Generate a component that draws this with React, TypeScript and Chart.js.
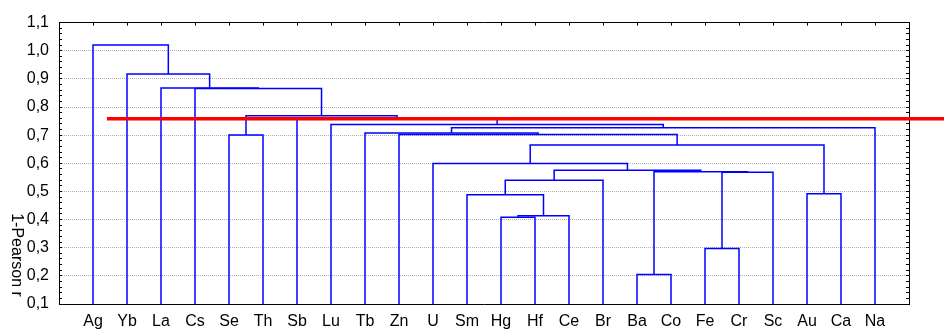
import React, { useEffect, useRef } from 'react';
import { Chart, registerables } from 'chart.js';

Chart.register(...registerables);

// Leaf labels, left to right
const categories = ['Ag', 'Yb', 'La', 'Cs', 'Se', 'Th', 'Sb', 'Lu', 'Tb', 'Zn', 'U', 'Sm', 'Hg', 'Hf', 'Ce', 'Br', 'Ba', 'Co', 'Fe', 'Cr', 'Sc', 'Au', 'Ca', 'Na'];

// Linkage steps: children are leaf names or "m<k>" (k-th merge), height = 1-Pearson r
const mergeLeft = ['Ba', 'Fe', 'Hg', 'm2', 'Sm', 'Au', 'm4', 'm1', 'm0', 'm6', 'U', 'm10', 'Se', 'Zn', 'Tb', 'm14', 'Lu', 'Sb', 'm12', 'Cs', 'La', 'Yb', 'Ag'];
const mergeRight = ['Co', 'Cr', 'Hf', 'Ce', 'm3', 'Ca', 'Br', 'Sc', 'm7', 'm8', 'm9', 'm5', 'Th', 'm11', 'm13', 'Na', 'm15', 'm16', 'm17', 'm18', 'm19', 'm20', 'm21'];
const mergeHeight = [0.205, 0.297, 0.408, 0.414, 0.488, 0.492, 0.540, 0.568, 0.570, 0.575, 0.599, 0.665, 0.701, 0.702, 0.708, 0.726, 0.738, 0.757, 0.769, 0.866, 0.868, 0.917, 1.020];

// Cut-off line
const cutLevel = [0.758];
const cutRange = [1.41, 26.05];

// Axis
const yMin = 0.1;
const yMax = 1.1;
const yMinorStep = 0.02;
const yTitle = '1-Pearson r';

const FONT = '"Liberation Sans", Arial, sans-serif';

function isMajor(v: number) {
  return Math.abs(v * 10 - Math.round(v * 10)) < 1e-6;
}

function buildDendrogram() {
  const nodeX: number[] = [];
  const resolve = (ref: string) => {
    if (ref.startsWith('m')) {
      const k = parseInt(ref.slice(1), 10);
      return { x: nodeX[k], h: mergeHeight[k] };
    }
    return { x: categories.indexOf(ref) + 1, h: yMin };
  };
  const datasets: any[] = [];
  for (let k = 0; k < mergeHeight.length; k++) {
    const l = resolve(mergeLeft[k]);
    const r = resolve(mergeRight[k]);
    const h = mergeHeight[k];
    nodeX[k] = (l.x + r.x) / 2;
    datasets.push({
      data: [
        { x: l.x, y: l.h },
        { x: l.x, y: h },
        { x: r.x, y: h },
        { x: r.x, y: r.h },
      ],
      showLine: true,
      borderColor: '#0000ff',
      borderWidth: 1.5,
      pointRadius: 0,
      tension: 0,
      fill: false,
    });
  }
  return datasets;
}

const leafTicks = (s: any) => {
  s.ticks = categories.map((_, i) => ({ value: i + 1 }));
};

const yTickList = (s: any) => {
  const n = Math.round((yMax - yMin) / yMinorStep);
  const t: any[] = [];
  for (let k = 0; k <= n; k++) t.push({ value: Math.round((yMin + k * yMinorStep) * 1000) / 1000 });
  s.ticks = t;
};

const yTitlePlugin = {
  id: 'yTitleRot',
  afterDraw(chart: any) {
    const { ctx } = chart;
    ctx.save();
    ctx.translate(16, 255);
    ctx.rotate(Math.PI / 2);
    ctx.font = `16px ${FONT}`;
    ctx.fillStyle = '#000';
    ctx.textAlign = 'center';
    ctx.textBaseline = 'middle';
    ctx.fillText(yTitle, 0, 0);
    ctx.restore();
  },
};

export default function App() {
  const ref = useRef<HTMLCanvasElement>(null);
  useEffect(() => {
    if (!ref.current) return;
    const cut = {
      data: [
        { x: cutRange[0], y: cutLevel[0] },
        { x: cutRange[1], y: cutLevel[0] },
      ],
      showLine: true,
      borderColor: '#ff0000',
      borderWidth: 3.5,
      pointRadius: 0,
      clip: false,
      fill: false,
    };
    const chart = new Chart(ref.current, {
      type: 'scatter',
      data: { datasets: [cut, ...buildDendrogram()] },
      options: {
        responsive: false,
        animation: false,
        events: [],
        layout: { padding: 0 },
        plugins: { legend: { display: false }, tooltip: { enabled: false }, title: { display: false } },
        scales: {
          x: {
            type: 'linear',
            position: 'bottom',
            min: 0,
            max: 25,
            afterBuildTicks: leafTicks,
            afterFit: (s: any) => { s.height = 29; },
            ticks: {
              autoSkip: false,
              maxRotation: 0,
              padding: 7.5,
              color: '#000',
              font: { family: FONT, size: 16 },
              callback: (v: any) => categories[Math.round(v) - 1] ?? '',
            },
            grid: { display: false, drawTicks: false },
            border: { display: true, color: '#000', width: 1 },
          },
          x2: {
            type: 'linear',
            position: 'top',
            min: 0,
            max: 25,
            afterBuildTicks: leafTicks,
            afterFit: (s: any) => { s.height = 21; },
            ticks: { display: false },
            grid: { drawOnChartArea: false, drawTicks: true, tickLength: -3, tickColor: '#000', tickWidth: 1 },
            border: { display: true, color: '#000', width: 1 },
          },
          y: {
            type: 'linear',
            position: 'left',
            min: yMin,
            max: yMax,
            afterBuildTicks: yTickList,
            afterFit: (s: any) => { s.width = 59; },
            ticks: {
              autoSkip: false,
              padding: 13,
              color: '#000',
              font: { family: FONT, size: 16 },
              callback: (v: any) => (isMajor(v) ? Number(v).toFixed(1).replace('.', ',') : ''),
            },
            grid: {
              drawOnChartArea: true,
              drawTicks: true,
              tickLength: -3,
              tickColor: '#000',
              tickWidth: 1,
              lineWidth: 1,
              color: (c: any) => {
                const v = c.tick ? c.tick.value : 0;
                return isMajor(v) && v > yMin + 1e-6 && v < yMax - 1e-6 ? '#b0b0b0' : 'rgba(0,0,0,0)';
              },
            },
            border: { display: true, color: '#000', width: 1, dash: [1, 1] },
          },
          y2: {
            type: 'linear',
            position: 'right',
            min: yMin,
            max: yMax,
            afterBuildTicks: yTickList,
            afterFit: (s: any) => { s.width = 35; },
            ticks: { display: false },
            grid: { drawOnChartArea: false, drawTicks: true, tickLength: -3, tickColor: '#000', tickWidth: 1 },
            border: { display: true, color: '#000', width: 1 },
          },
        },
      },
      plugins: [yTitlePlugin],
    } as any);
    return () => chart.destroy();
  }, []);
  return (
    <div style={{ position: 'absolute', left: 0, top: 0, width: 944, height: 333, background: '#fff' }}>
      <canvas ref={ref} width={944} height={333} style={{ display: 'block' }} />
    </div>
  );
}
